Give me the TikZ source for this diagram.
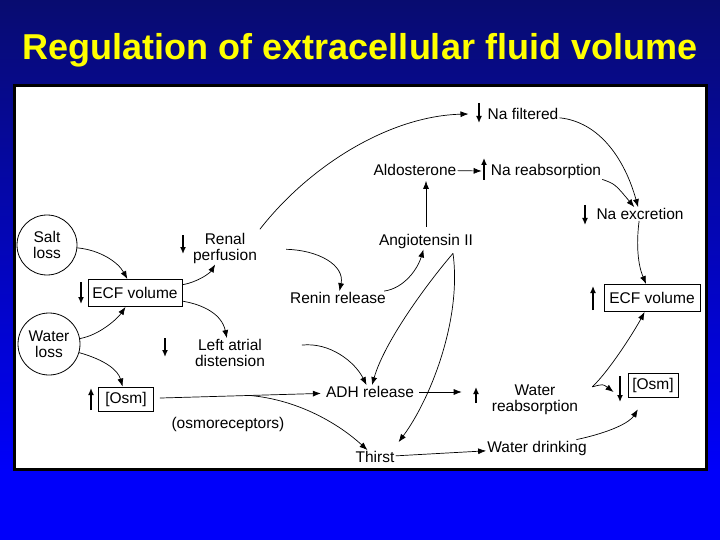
\documentclass[tikz,border=0pt]{standalone}
\usepackage{fontspec}
\setmainfont{Liberation Sans}
\usetikzlibrary{arrows.meta}
\definecolor{slidetop}{RGB}{8,12,112}
\definecolor{slidebot}{RGB}{0,0,250}
\definecolor{titleyellow}{RGB}{255,255,0}
\begin{document}
\begin{tikzpicture}[x=1pt,y=-1pt]
	\tikzset{term/.style = {font=\fontsize{15.5}{16}\selectfont, align=center, inner sep=1pt}}
	\tikzset{box/.style = {term, draw, line width=0.9pt, inner sep=3pt}}
	\tikzset{loss/.style = {term, circle, draw, line width=0.8pt, minimum size=60pt}}
	\tikzset{link/.style = {-{Latex[length=8pt,width=6pt]}, line width=0.7pt}}
	\tikzset{sign/.style = {-{Latex[length=7pt,width=6pt]}, line width=1.3pt}}
	\useasboundingbox (0,0) rectangle (720,540);
	\fill[slidebot] (0,0) rectangle (720,540);
	\shade[top color=slidetop, bottom color=slidebot] (0,0) rectangle (720,470);
	\node[font=\bfseries\fontsize{36}{40}\selectfont, text=titleyellow, anchor=base] (title) at (360,60) {Regulation of extracellular fluid volume};
	\draw[fill=white, line width=3pt] (14,86) rectangle (706,469);
	\node[loss] (salt) at (47,245) {Salt\\loss};
	\node[loss, minimum size=62pt] (water) at (49,344) {Water\\loss};
	\node[box, minimum width=94pt, minimum height=27pt] (ecfl) at (135,293) {ECF volume};
	\node[box, minimum width=55pt, minimum height=24pt] (osml) at (126,399) {[Osm]};
	\node[term] (renal) at (225,248) {Renal\\perfusion};
	\node[term] (atrial) at (230,353) {Left atrial\\distension};
	\node[term] (renin) at (338,298) {Renin release};
	\node[term] (angio) at (426,241) {Angiotensin II};
	\node[term] (aldo) at (415,170) {Aldosterone};
	\node[term] (nafilt) at (523,114) {Na filtered};
	\node[term] (nareab) at (546,171) {Na reabsorption};
	\node[term] (naexc) at (640,214) {Na excretion};
	\node[box, minimum width=96pt, minimum height=27pt] (ecfr) at (652,298) {ECF volume};
	\node[box, minimum width=50pt, minimum height=24pt] (osmr) at (653,385) {[Osm]};
	\node[term] (adh) at (370,392) {ADH release};
	\node[term] (osmo) at (228,424) {(osmoreceptors)};
	\node[term] (thirst) at (375,457) {Thirst};
	\node[term] (wreab) at (535,400) {Water\\reabsorption};
	\node[term] (drink) at (537,448) {Water drinking};
	\draw[sign] ([shift={(-54,-11)}]ecfl.center) -- ++(0,22);
	\draw[sign] ([shift={(-35,11)}]osml.center) -- ++(0,-22);
	\draw[sign] ([shift={(-42,-13)}]renal.center) -- ++(0,19);
	\draw[sign] ([shift={(-65,-15)}]atrial.center) -- ++(0,19);
	\draw[sign] ([shift={(-44,-11)}]nafilt.center) -- ++(0,20);
	\draw[sign] ([shift={(-62,9)}]nareab.center) -- ++(0,-22);
	\draw[sign] ([shift={(-55,-9)}]naexc.center) -- ++(0,20);
	\draw[sign] ([shift={(-59,12)}]ecfr.center) -- ++(0,-24);
	\draw[sign] ([shift={(-33,-9)}]osmr.center) -- ++(0,26);
	\draw[sign] ([shift={(-59,3)}]wreab.center) -- ++(0,-16);
	\draw[link] (salt) .. controls (100,250) and (118,262) .. (ecfl);
	\draw[link] (water) .. controls (100,335) and (118,318) .. (ecfl);
	\draw[link] (water) .. controls (105,360) and (118,370) .. (osml);
	\draw[link] (ecfl) .. controls (198,282) and (210,273) .. (renal);
	\draw[link] (ecfl) .. controls (205,305) and (222,315) .. (atrial);
	\draw[link, shorten <=28pt] (renal) .. controls (318,250) and (345,265) .. (renin);
	\draw[link, shorten <=3pt] (renal.north east) .. controls (310,165) and (390,116) .. ([xshift=-18pt]nafilt.west);
	\draw[link] (nafilt) .. controls (600,122) and (625,160) .. (naexc);
	\draw[link] (nareab.south east) .. controls (615,184) .. (naexc);
	\draw[link] (naexc) .. controls (636,245) and (638,265) .. (ecfr);
	\draw[link] (aldo) -- ([xshift=-8pt]nareab.west);
	\draw[link, shorten <=6pt, shorten >=4pt] (angio.north) -- (angio.north |- aldo.south);
	\draw[link] (renin) .. controls (405,288) and (418,268) .. (angio);
	\coordinate (angsplit) at ([shift={(27,4)}]angio.south);
	\draw[link] (angsplit) .. controls (430,280) and (385,340) .. (adh);
	\draw[link] (angsplit) .. controls (462,320) and (430,400) .. ([shift={(3,-8)}]thirst.north east);
	\draw[link, shorten <=36pt] (atrial) .. controls (330,342) and (355,362) .. (adh);
	\draw[link, shorten <=6pt, shorten >=4pt] (osml) -- coordinate[pos=0.56] (osmsplit) (adh);
	\draw[link] (osmsplit) .. controls (300,400) and (340,425) .. (thirst);
	\draw[link, shorten <=4pt, shorten >=29pt] (adh.east) -- (adh.east -| wreab.west);
	\draw[link] (thirst) -- (drink);
	\coordinate (wsplit) at ([shift={(13,3)}]wreab.north east);
	\draw[link] (wsplit) .. controls (610,370) and (635,330) .. (ecfr);
	\draw[link] (wsplit) .. controls (603,384) .. ([shift={(-14,7)}]osmr.west);
	\draw[link, shorten >=14pt] (drink) .. controls (612,432) and (630,422) .. (osmr);
\end{tikzpicture}
\end{document}
